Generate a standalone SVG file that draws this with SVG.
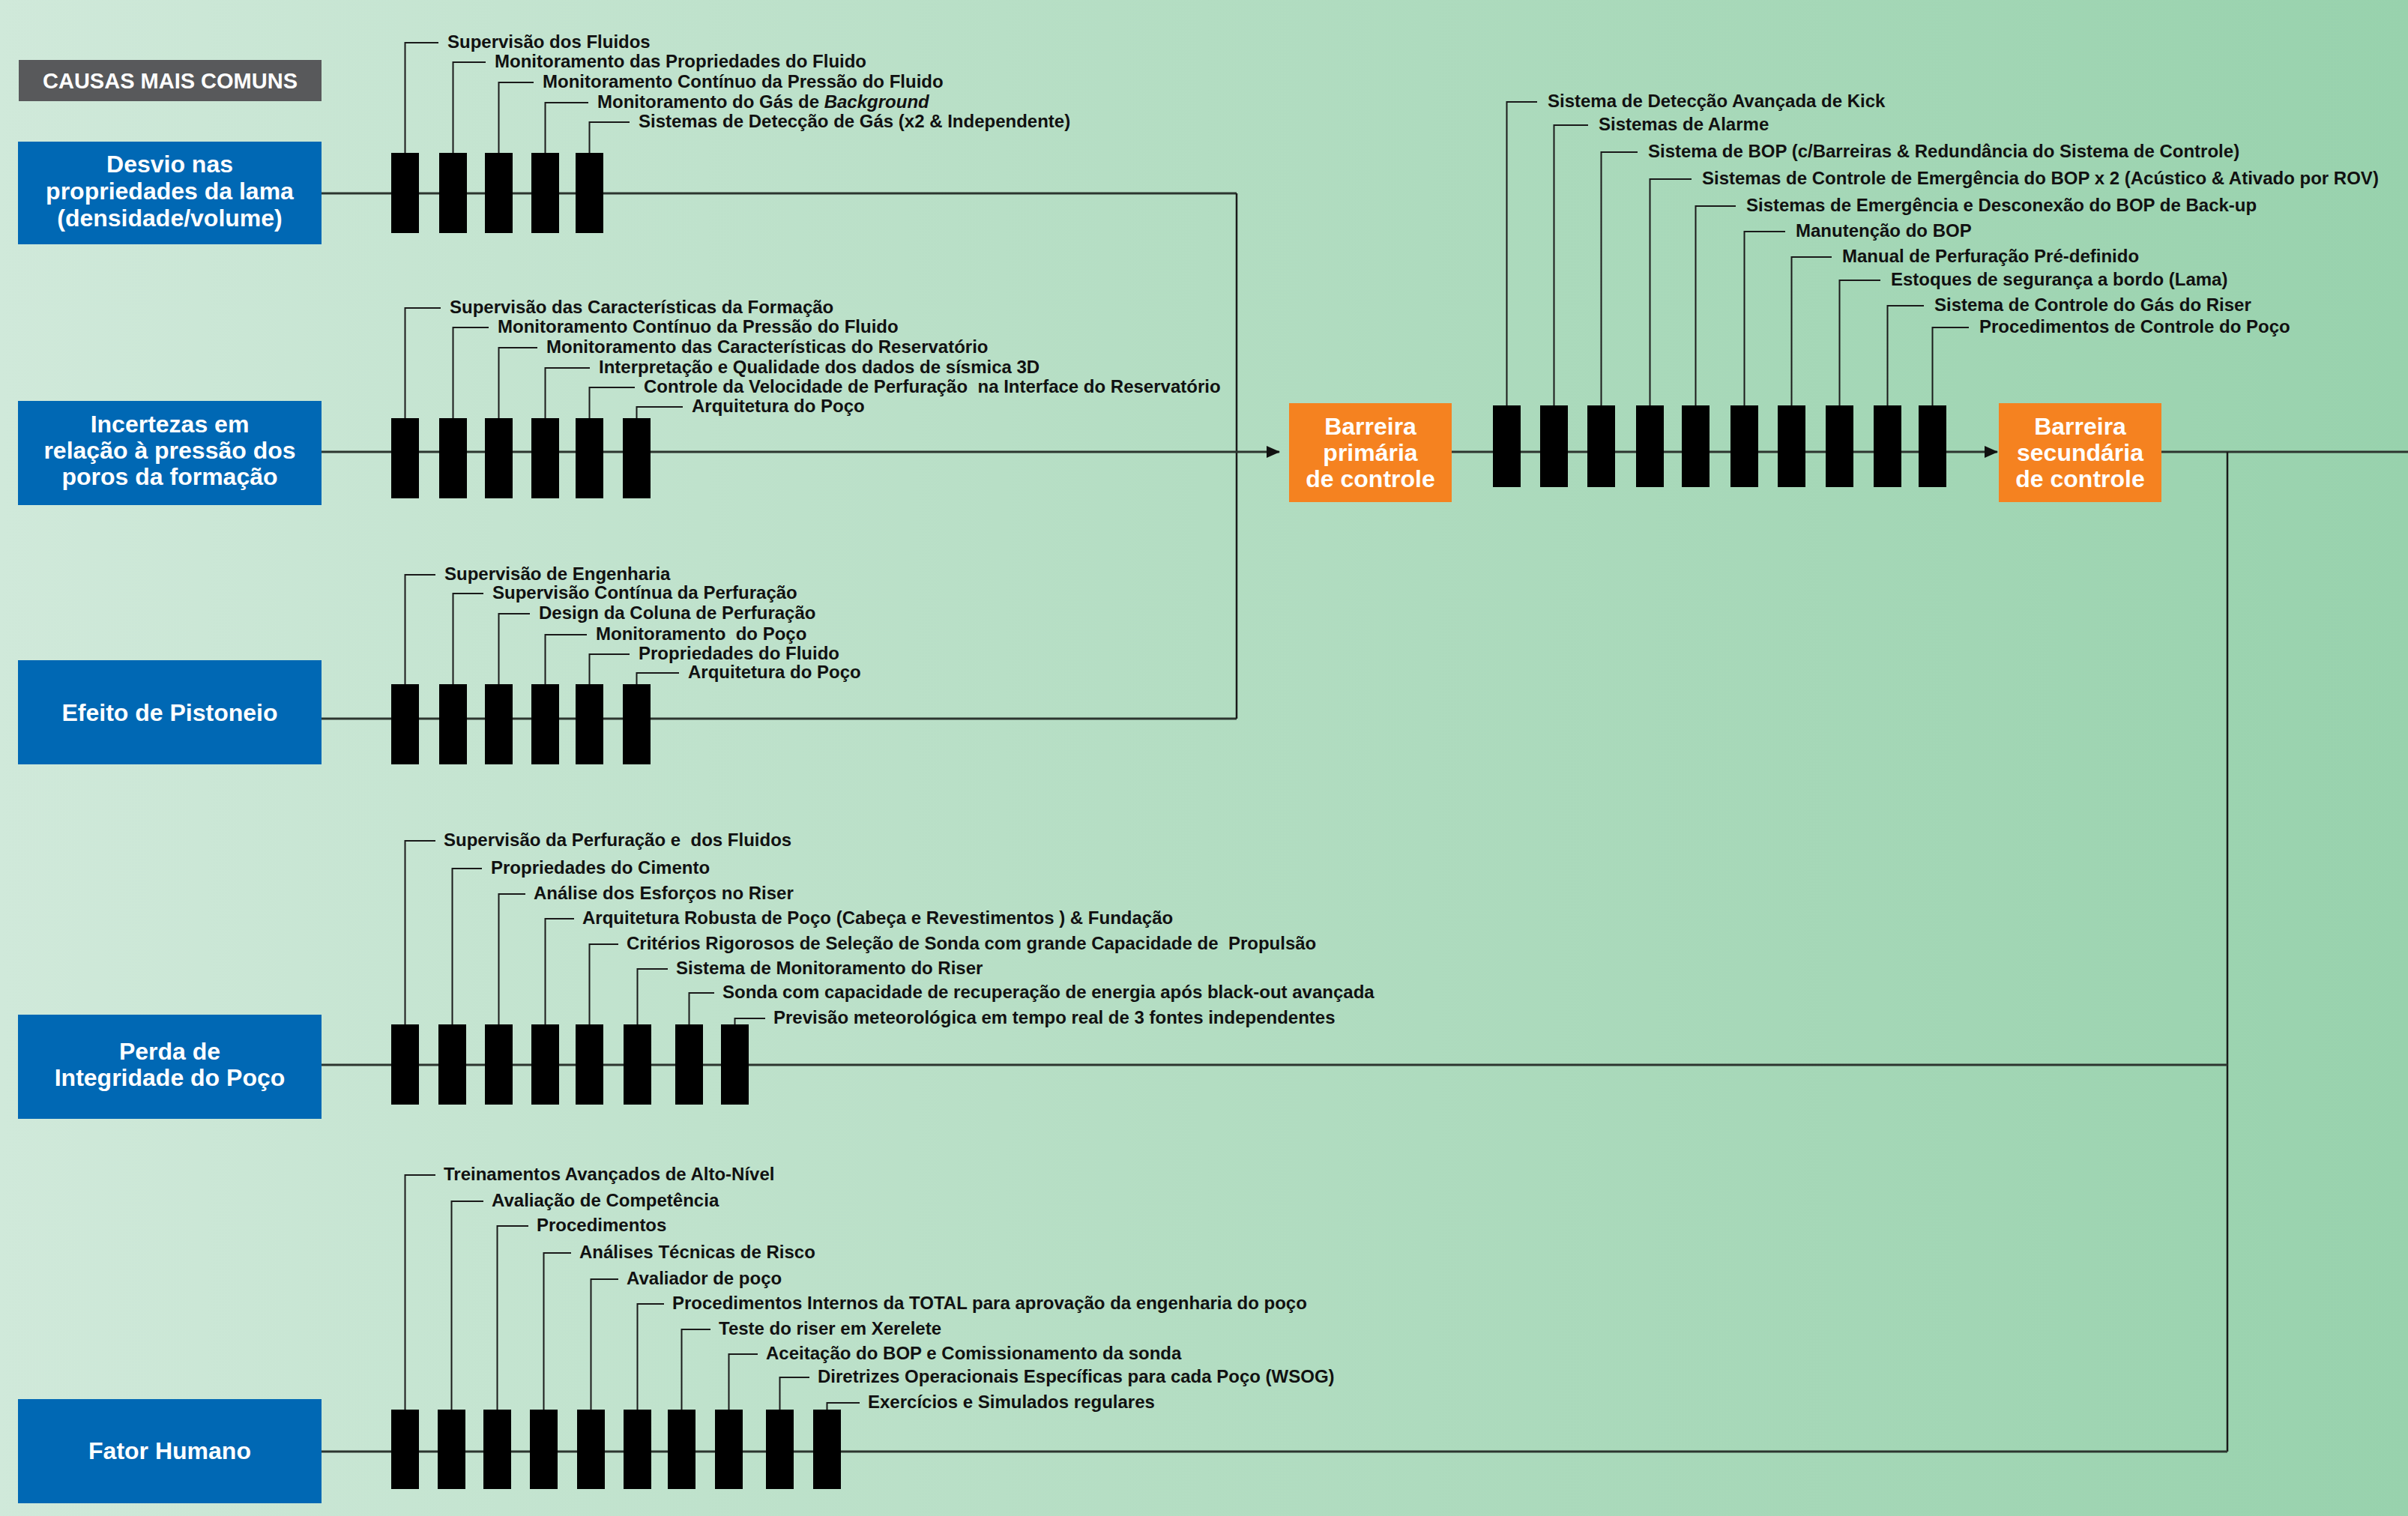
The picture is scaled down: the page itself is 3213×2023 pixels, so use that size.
<svg xmlns="http://www.w3.org/2000/svg" width="3213" height="2023" viewBox="0 0 3213 2023">
<defs>
<linearGradient id="bg" x1="0" y1="0" x2="1" y2="0">
<stop offset="0" stop-color="#d0e9da"/>
<stop offset="0.5" stop-color="#b3ddc2"/>
<stop offset="1" stop-color="#98d2ad"/>
</linearGradient>
<marker id="arr" viewBox="0 0 18 16" refX="17" refY="8" markerWidth="18" markerHeight="16" markerUnits="userSpaceOnUse" orient="auto">
<path d="M0,0 L18,8 L0,16 Z" fill="#111"/>
</marker>
<style>
.lbl{font-family:"Liberation Sans",Arial,Helvetica,sans-serif;font-weight:bold;font-size:24px;fill:#111}
.nt{font-family:"Liberation Sans",Arial,Helvetica,sans-serif;font-weight:bold;font-size:32px;fill:#fff;text-anchor:middle}
.blue{fill:#0068b4}
.orange{fill:#f58220}
.bar{fill:#000}
.lead{fill:none;stroke:#1a1a1a;stroke-width:2}
.main{fill:none;stroke:#2c352f;stroke-width:3}
.col{fill:none;stroke:#1a1a1a;stroke-width:2.5}
</style>
</defs>
<rect x="0" y="0" width="3213" height="2023" fill="url(#bg)"/>

<g id="connectors">
<path class="main" d="M429,258 H1650"/>
<path class="main" d="M429,959 H1650"/>
<path class="col" d="M1650,258 V959"/>
<path class="main" d="M429,603 H1707" marker-end="url(#arr)"/>
<path class="main" d="M1937,603 H2665" marker-end="url(#arr)"/>
<path class="main" d="M2884,603 H3213"/>
<path class="col" d="M2972,603 V1937"/>
<path class="main" d="M429,1421 H2972"/>
<path class="main" d="M429,1937 H2972"/>
</g>

<g id="header-causas">
<rect x="25" y="80" width="404" height="55" fill="#58595b"/>
<text class="nt" x="227" y="118" style="font-size:29px">CAUSAS MAIS COMUNS</text>
</g>

<g id="node-desvio">
<rect class="blue" x="24" y="189" width="405" height="137"/>
<text class="nt" x="226.5" y="230">Desvio nas</text>
<text class="nt" x="226.5" y="266">propriedades da lama</text>
<text class="nt" x="226.5" y="302">(densidade/volume)</text>
</g>

<g id="node-incertezas">
<rect class="blue" x="24" y="535" width="405" height="139"/>
<text class="nt" x="226.5" y="577">Incertezas em</text>
<text class="nt" x="226.5" y="612">relação à pressão dos</text>
<text class="nt" x="226.5" y="647">poros da formação</text>
</g>

<g id="node-efeito">
<rect class="blue" x="24" y="881" width="405" height="139"/>
<text class="nt" x="226.5" y="962">Efeito de Pistoneio</text>
</g>

<g id="node-perda">
<rect class="blue" x="24" y="1354" width="405" height="139"/>
<text class="nt" x="226.5" y="1414">Perda de</text>
<text class="nt" x="226.5" y="1449">Integridade do Poço</text>
</g>

<g id="node-fator">
<rect class="blue" x="24" y="1867" width="405" height="139"/>
<text class="nt" x="226.5" y="1947">Fator Humano</text>
</g>

<g id="node-barreira-primaria">
<rect class="orange" x="1720" y="538" width="217" height="132"/>
<text class="nt" x="1828.5" y="580">Barreira</text>
<text class="nt" x="1828.5" y="615">primária</text>
<text class="nt" x="1828.5" y="650">de controle</text>
</g>

<g id="node-barreira-secundaria">
<rect class="orange" x="2667" y="538" width="217" height="132"/>
<text class="nt" x="2775.5" y="580">Barreira</text>
<text class="nt" x="2775.5" y="615">secundária</text>
<text class="nt" x="2775.5" y="650">de controle</text>
</g>

<g id="barriers-desvio">
<path class="lead" d="M540.5,204 V57 H585"/>
<path class="lead" d="M604.5,204 V83 H648"/>
<path class="lead" d="M665.5,204 V110 H712"/>
<path class="lead" d="M727.5,204 V137 H785"/>
<path class="lead" d="M786.5,204 V163 H840"/>
<rect class="bar" x="522" y="204" width="37" height="107"/>
<rect class="bar" x="586" y="204" width="37" height="107"/>
<rect class="bar" x="647" y="204" width="37" height="107"/>
<rect class="bar" x="709" y="204" width="37" height="107"/>
<rect class="bar" x="768" y="204" width="37" height="107"/>
<text class="lbl" x="597" y="64">Supervisão dos Fluidos</text>
<text class="lbl" x="660" y="90">Monitoramento das Propriedades do Fluido</text>
<text class="lbl" x="724" y="117">Monitoramento Contínuo da Pressão do Fluido</text>
<text class="lbl" x="797" y="144">Monitoramento do Gás de <tspan font-style="italic">Background</tspan></text>
<text class="lbl" x="852" y="170">Sistemas de Detecção de Gás (x2 &amp; Independente)</text>
</g>

<g id="barriers-incertezas">
<path class="lead" d="M540.5,558 V411 H588"/>
<path class="lead" d="M604.5,558 V437 H652"/>
<path class="lead" d="M665.5,558 V464 H717"/>
<path class="lead" d="M727.5,558 V491 H787"/>
<path class="lead" d="M786.5,558 V517 H847"/>
<path class="lead" d="M849.5,558 V543 H911"/>
<rect class="bar" x="522" y="558" width="37" height="107"/>
<rect class="bar" x="586" y="558" width="37" height="107"/>
<rect class="bar" x="647" y="558" width="37" height="107"/>
<rect class="bar" x="709" y="558" width="37" height="107"/>
<rect class="bar" x="768" y="558" width="37" height="107"/>
<rect class="bar" x="831" y="558" width="37" height="107"/>
<text class="lbl" x="600" y="418">Supervisão das Características da Formação</text>
<text class="lbl" x="664" y="444">Monitoramento Contínuo da Pressão do Fluido</text>
<text class="lbl" x="729" y="471">Monitoramento das Características do Reservatório</text>
<text class="lbl" x="799" y="498">Interpretação e Qualidade dos dados de sísmica 3D</text>
<text class="lbl" x="859" y="524">Controle da Velocidade de Perfuração&#160; na Interface do Reservatório</text>
<text class="lbl" x="923" y="550">Arquitetura do Poço</text>
</g>

<g id="barriers-efeito">
<path class="lead" d="M540.5,913 V767 H581"/>
<path class="lead" d="M604.5,913 V792 H645"/>
<path class="lead" d="M665.5,913 V819 H707"/>
<path class="lead" d="M727.5,913 V847 H783"/>
<path class="lead" d="M786.5,913 V873 H840"/>
<path class="lead" d="M849.5,913 V898 H906"/>
<rect class="bar" x="522" y="913" width="37" height="107"/>
<rect class="bar" x="586" y="913" width="37" height="107"/>
<rect class="bar" x="647" y="913" width="37" height="107"/>
<rect class="bar" x="709" y="913" width="37" height="107"/>
<rect class="bar" x="768" y="913" width="37" height="107"/>
<rect class="bar" x="831" y="913" width="37" height="107"/>
<text class="lbl" x="593" y="774">Supervisão de Engenharia</text>
<text class="lbl" x="657" y="799">Supervisão Contínua da Perfuração</text>
<text class="lbl" x="719" y="826">Design da Coluna de Perfuração</text>
<text class="lbl" x="795" y="854">Monitoramento&#160; do Poço</text>
<text class="lbl" x="852" y="880">Propriedades do Fluido</text>
<text class="lbl" x="918" y="905">Arquitetura do Poço</text>
</g>

<g id="barriers-perda">
<path class="lead" d="M540.5,1367 V1122 H581"/>
<path class="lead" d="M603.5,1367 V1159 H643"/>
<path class="lead" d="M665.5,1367 V1193 H701"/>
<path class="lead" d="M727.5,1367 V1226 H766"/>
<path class="lead" d="M786.5,1367 V1260 H825"/>
<path class="lead" d="M850.5,1367 V1293 H891"/>
<path class="lead" d="M919.5,1367 V1325 H953"/>
<path class="lead" d="M980.5,1367 V1359 H1021"/>
<rect class="bar" x="522" y="1367" width="37" height="107"/>
<rect class="bar" x="585" y="1367" width="37" height="107"/>
<rect class="bar" x="647" y="1367" width="37" height="107"/>
<rect class="bar" x="709" y="1367" width="37" height="107"/>
<rect class="bar" x="768" y="1367" width="37" height="107"/>
<rect class="bar" x="832" y="1367" width="37" height="107"/>
<rect class="bar" x="901" y="1367" width="37" height="107"/>
<rect class="bar" x="962" y="1367" width="37" height="107"/>
<text class="lbl" x="592" y="1129">Supervisão da Perfuração e&#160; dos Fluidos</text>
<text class="lbl" x="655" y="1166">Propriedades do Cimento</text>
<text class="lbl" x="712" y="1200">Análise dos Esforços no Riser</text>
<text class="lbl" x="777" y="1233">Arquitetura Robusta de Poço (Cabeça e Revestimentos ) &amp; Fundação</text>
<text class="lbl" x="836" y="1267">Critérios Rigorosos de Seleção de Sonda com grande Capacidade de&#160; Propulsão</text>
<text class="lbl" x="902" y="1300">Sistema de Monitoramento do Riser</text>
<text class="lbl" x="964" y="1332">Sonda com capacidade de recuperação de energia após black-out avançada</text>
<text class="lbl" x="1032" y="1366">Previsão meteorológica em tempo real de 3 fontes independentes</text>
</g>

<g id="barriers-fator">
<path class="lead" d="M540.5,1881 V1568 H581"/>
<path class="lead" d="M602.5,1881 V1603 H645"/>
<path class="lead" d="M663.5,1881 V1636 H705"/>
<path class="lead" d="M725.5,1881 V1672 H762"/>
<path class="lead" d="M788.5,1881 V1707 H825"/>
<path class="lead" d="M850.5,1881 V1740 H886"/>
<path class="lead" d="M909.5,1881 V1774 H948"/>
<path class="lead" d="M972.5,1881 V1807 H1011"/>
<path class="lead" d="M1040.5,1881 V1838 H1080"/>
<path class="lead" d="M1103.5,1881 V1872 H1147"/>
<rect class="bar" x="522" y="1881" width="37" height="106"/>
<rect class="bar" x="584" y="1881" width="37" height="106"/>
<rect class="bar" x="645" y="1881" width="37" height="106"/>
<rect class="bar" x="707" y="1881" width="37" height="106"/>
<rect class="bar" x="770" y="1881" width="37" height="106"/>
<rect class="bar" x="832" y="1881" width="37" height="106"/>
<rect class="bar" x="891" y="1881" width="37" height="106"/>
<rect class="bar" x="954" y="1881" width="37" height="106"/>
<rect class="bar" x="1022" y="1881" width="37" height="106"/>
<rect class="bar" x="1085" y="1881" width="37" height="106"/>
<text class="lbl" x="592" y="1575">Treinamentos Avançados de Alto-Nível</text>
<text class="lbl" x="656" y="1610">Avaliação de Competência</text>
<text class="lbl" x="716" y="1643">Procedimentos</text>
<text class="lbl" x="773" y="1679">Análises Técnicas de Risco</text>
<text class="lbl" x="836" y="1714">Avaliador de poço</text>
<text class="lbl" x="897" y="1747">Procedimentos Internos da TOTAL para aprovação da engenharia do poço</text>
<text class="lbl" x="959" y="1781">Teste do riser em Xerelete</text>
<text class="lbl" x="1022" y="1814">Aceitação do BOP e Comissionamento da sonda</text>
<text class="lbl" x="1091" y="1845">Diretrizes Operacionais Específicas para cada Poço (WSOG)</text>
<text class="lbl" x="1158" y="1879">Exercícios e Simulados regulares</text>
</g>

<g id="barriers-secundarias">
<path class="lead" d="M2010.5,541 V136 H2051"/>
<path class="lead" d="M2073.5,541 V167 H2119"/>
<path class="lead" d="M2136.5,541 V203 H2185"/>
<path class="lead" d="M2201.5,541 V239 H2257"/>
<path class="lead" d="M2262.5,541 V275 H2316"/>
<path class="lead" d="M2327.5,541 V309 H2382"/>
<path class="lead" d="M2390.5,541 V343 H2444"/>
<path class="lead" d="M2454.5,541 V374 H2509"/>
<path class="lead" d="M2518.5,541 V408 H2567"/>
<path class="lead" d="M2578.5,541 V437 H2627"/>
<rect class="bar" x="1992" y="541" width="37" height="109"/>
<rect class="bar" x="2055" y="541" width="37" height="109"/>
<rect class="bar" x="2118" y="541" width="37" height="109"/>
<rect class="bar" x="2183" y="541" width="37" height="109"/>
<rect class="bar" x="2244" y="541" width="37" height="109"/>
<rect class="bar" x="2309" y="541" width="37" height="109"/>
<rect class="bar" x="2372" y="541" width="37" height="109"/>
<rect class="bar" x="2436" y="541" width="37" height="109"/>
<rect class="bar" x="2500" y="541" width="37" height="109"/>
<rect class="bar" x="2560" y="541" width="37" height="109"/>
<text class="lbl" x="2065" y="143">Sistema de Detecção Avançada de Kick</text>
<text class="lbl" x="2133" y="174">Sistemas de Alarme</text>
<text class="lbl" x="2199" y="210">Sistema de BOP (c/Barreiras &amp; Redundância do Sistema de Controle)</text>
<text class="lbl" x="2271" y="246">Sistemas de Controle de Emergência do BOP x 2 (Acústico &amp; Ativado por ROV)</text>
<text class="lbl" x="2330" y="282">Sistemas de Emergência e Desconexão do BOP de Back-up</text>
<text class="lbl" x="2396" y="316">Manutenção do BOP</text>
<text class="lbl" x="2458" y="350">Manual de Perfuração Pré-definido</text>
<text class="lbl" x="2523" y="381">Estoques de segurança a bordo (Lama)</text>
<text class="lbl" x="2581" y="415">Sistema de Controle do Gás do Riser</text>
<text class="lbl" x="2641" y="444">Procedimentos de Controle do Poço</text>
</g>
</svg>
